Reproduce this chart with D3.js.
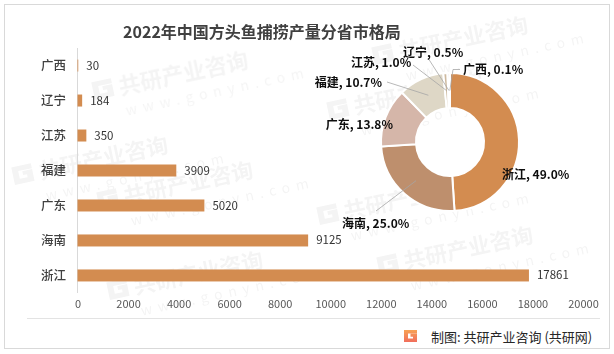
<!DOCTYPE html>
<meta charset="utf-8">
<script src="https://d3js.org/d3.v7.min.js"></script>
<style>
  body { margin: 0; background: #fff; }
  text { font-family: "Noto Sans CJK SC", "Noto Sans", sans-serif; }
</style>
<div id="chart"></div>
<script>
// data
const provinces = ["广西", "辽宁", "江苏", "福建", "广东", "海南", "浙江"];
const output = [30, 184, 350, 3909, 5020, 9125, 17861];
const xTicks = [0, 2000, 4000, 6000, 8000, 10000, 12000, 14000, 16000, 18000, 20000];
// donut goes clockwise from 12 o'clock, biggest first
const pieOrder = ["浙江", "海南", "广东", "福建", "江苏", "辽宁", "广西"];
const pieColors = ["#D38C50", "#BE8F6D", "#D5B6A9", "#DED7C6", "#CDB99E", "#BFA88C", "#E2B98E"];

const W = 614, H = 354;
const svg = d3.select("#chart").append("svg")
  .attr("width", W).attr("height", H);

// frame
svg.append("rect").attr("x", 4.5).attr("y", 4.5).attr("width", 605).attr("height", 344)
  .attr("fill", "#fff").attr("stroke", "#D9D9D9");

// faint watermark
const wm = svg.append("g").attr("opacity", 0.045);
const wmSpots = [[95, 100], [15, 185], [100, 210], [110, 300], [330, 120], [375, 65], [320, 225], [380, 275]];
wmSpots.forEach(([px, py]) => {
  const g = wm.append("g").attr("transform", `translate(${px},${py}) rotate(-12)`);
  g.append("path").attr("d", "M0,-18h20v5h-14v8h8v-3h-4v-4h10v12h-20z").attr("fill", "#000");
  g.append("text").attr("x", 26).attr("y", 0).attr("font-size", 22).attr("font-weight", 700)
    .attr("fill", "#000").text("共研产业咨询");
  g.append("text").attr("x", 28).attr("y", 22).attr("font-size", 14).attr("letter-spacing", 6)
    .attr("fill", "#000").text("www.gonyn.com");
});

// title
svg.append("text").attr("x", 262).attr("y", 38).attr("text-anchor", "middle")
  .attr("font-size", 16).attr("font-weight", 700).attr("fill", "#404040")
  .text("2022年中国方头鱼捕捞产量分省市格局");

// ---- bar chart ----
const x = d3.scaleLinear().domain([0, 20000]).range([77.5, 583]);
const y = d3.scaleBand().domain(provinces).range([48, 293])
  .paddingInner(0.657).paddingOuter(0.33);

const xAxis = svg.append("g").attr("transform", "translate(0,300)")
  .call(d3.axisBottom(x).tickValues(xTicks).tickSize(0).tickPadding(0).tickFormat(d3.format("d")));
xAxis.select(".domain").remove();
xAxis.selectAll("text").attr("font-size", 11).attr("fill", "#595959")
  .attr("dy", "0.71em").style("font-family", '"Noto Sans CJK SC", sans-serif');

svg.append("line").attr("x1", x(0)).attr("x2", x(0)).attr("y1", 48).attr("y2", 293)
  .attr("stroke", "#D9D9D9");

svg.selectAll("rect.bar").data(provinces).join("rect").attr("class", "bar")
  .attr("x", x(0)).attr("y", d => y(d))
  .attr("width", (d, i) => x(output[i]) - x(0))
  .attr("height", y.bandwidth()).attr("fill", "#D38C50");

svg.selectAll("text.cat").data(provinces).join("text").attr("class", "cat")
  .attr("x", 66).attr("y", d => y(d) + y.bandwidth() / 2).attr("dy", "0.35em")
  .attr("text-anchor", "end").attr("font-size", 12.5).attr("font-weight", 500)
  .attr("fill", "#404040").text(d => d);

svg.selectAll("text.val").data(provinces).join("text").attr("class", "val")
  .attr("x", (d, i) => x(output[i]) + 8).attr("y", d => y(d) + y.bandwidth() / 2).attr("dy", "0.35em")
  .attr("font-size", 11.5).attr("fill", "#333").text((d, i) => output[i]);

// bottom rule
svg.append("line").attr("x1", 27).attr("x2", 600).attr("y1", 318.5).attr("y2", 318.5)
  .attr("stroke", "#E3E3E3");

// ---- donut ----
const total = d3.sum(output);
const pieData = pieOrder.map((p, i) => ({ name: p, value: output[provinces.indexOf(p)], color: pieColors[i] }));
const cx = 450, cy = 142, R = 69, r = 34;
const arcs = d3.pie().sort(null).value(d => d.value)(pieData);
const arc = d3.arc().innerRadius(r).outerRadius(R);
const donut = svg.append("g").attr("transform", `translate(${cx},${cy})`);

donut.selectAll("path").data(arcs).join("path")
  .attr("d", arc).attr("fill", d => d.data.color)
  .attr("stroke", "#fff").attr("stroke-width", 2);

// label layout (anchor, text start/end) and leader line end
const labelPos = {
  "浙江": { x: 502, y: 175, anchor: "start" },
  "海南": { x: 342, y: 224, anchor: "start", lead: [[376, 211]] },
  "广东": { x: 393, y: 125, anchor: "end" },
  "福建": { x: 382, y: 83, anchor: "end", lead: [[387, 82]] },
  "江苏": { x: 351, y: 63, anchor: "start", lead: [[413, 65]] },
  "辽宁": { x: 403, y: 53, anchor: "start", lead: [[428, 58]] },
  "广西": { x: 463, y: 70, anchor: "start", lead: [[460, 69.5], [453, 69.5]] }
};

const fmt = d3.format(".1%");
arcs.forEach(a => {
  const lp = labelPos[a.data.name];
  if (lp.lead) {
    const c = arc.centroid(a);
    const pts = lp.lead.concat([[cx + c[0], cy + c[1]]]);
    svg.append("path").attr("d", d3.line()(pts))
      .attr("fill", "none").attr("stroke", "#A6A6A6").attr("stroke-width", 0.8);
  }
  svg.append("text").attr("x", lp.x).attr("y", lp.y).attr("dy", "0.35em")
    .attr("text-anchor", lp.anchor).attr("font-size", 12).attr("font-weight", 700)
    .attr("fill", "#0D0D0D").text(`${a.data.name}, ${fmt(a.data.value / total)}`);
});

// ---- footer ----
const defs = svg.append("defs");
const grad = defs.append("linearGradient").attr("id", "logoGrad")
  .attr("x1", 0).attr("y1", 0).attr("x2", 0).attr("y2", 1);
grad.append("stop").attr("offset", "0%").attr("stop-color", "#F7A254");
grad.append("stop").attr("offset", "100%").attr("stop-color", "#F16E5C");
svg.append("path").attr("transform", "translate(404,330)")
  .attr("d", "M0,0h13v3.5h-9v5h5v-1.8h-2.5v-3h6.5v8.3h-13z")
  .attr("fill", "url(#logoGrad)");
svg.append("text").attr("x", 431).attr("y", 337).attr("dy", "0.35em")
  .attr("font-size", 13).attr("fill", "#262626").text("制图: 共研产业咨询 (共研网)");
</script>
